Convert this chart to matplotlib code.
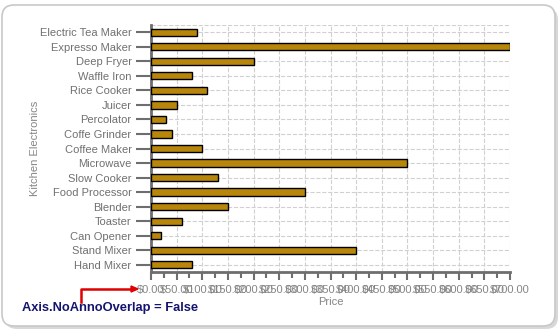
# horizontal bar chart of kitchen electronics prices, overlapping tick labels on purpose

import matplotlib
matplotlib.use('Agg')
import matplotlib.pyplot as plt
from matplotlib.patches import FancyBboxPatch
from matplotlib.lines import Line2D
from matplotlib.transforms import IdentityTransform
from matplotlib.ticker import MultipleLocator

plt.rcParams['font.family'] = ['Liberation Sans', 'DejaVu Sans']

categories = ['Electric Tea Maker', 'Expresso Maker', 'Deep Fryer', 'Waffle Iron',
              'Rice Cooker', 'Juicer', 'Percolator', 'Coffe Grinder', 'Coffee Maker',
              'Microwave', 'Slow Cooker', 'Food Processor', 'Blender', 'Toaster',
              'Can Opener', 'Stand Mixer', 'Hand Mixer']
prices = [90, 700, 200, 80, 110, 50, 30, 40, 100, 500, 130, 300, 150, 60, 20, 400, 80]
price_ticks = list(range(0, 701, 50))
price_labels = ['$%.2f' % p for p in price_ticks]

W, H = 560, 331
fig = plt.figure(figsize=(W / 100, H / 100), dpi=100)
fig.patch.set_facecolor('white')

# rounded frame with a soft shadow
shadow = FancyBboxPatch((5, 2), 553, 321, boxstyle='round,pad=0,rounding_size=12',
                        transform=IdentityTransform(), facecolor='#d8d8d8',
                        edgecolor='none', zorder=-2)
frame = FancyBboxPatch((2, 5), 553, 321, boxstyle='round,pad=0,rounding_size=12',
                       transform=IdentityTransform(), facecolor='white',
                       edgecolor='#c8c8c8', lw=1.2, zorder=-1)
fig.patches.append(shadow)
fig.patches.append(frame)

ax = fig.add_axes([151 / W, 1 - 272 / H, 359 / W, 247 / H])
ax.set_facecolor('none')
ax.set_zorder(2)

y = list(range(len(categories)))
ax.barh(y, prices, height=0.5, color='#B8860B', edgecolor='black', linewidth=1.0, zorder=3)

ax.set_xlim(0, 700)
ax.set_ylim(len(categories) - 0.5, -0.5)
ax.set_yticks(y)
ax.set_yticklabels(categories)
ax.set_xticks(price_ticks)
ax.set_xticklabels(price_labels)
ax.xaxis.set_minor_locator(MultipleLocator(25))

gray = '#6e6e6e'
ax.tick_params(axis='y', length=11, width=1.5, color=gray, labelcolor='#707070',
               labelsize=8.0, pad=3)
ax.tick_params(axis='x', which='major', length=6, width=1.5, color=gray,
               labelcolor='#858585', labelsize=8.0, pad=3)
ax.tick_params(axis='x', which='minor', length=4, width=1.5, color=gray)

ax.grid(True, which='major', color='#d0d0d0', linestyle='--', linewidth=0.8, zorder=0)
ax.axhline(-0.5, color='#d0d0d0', linestyle='--', linewidth=0.8, zorder=0)

for side in ['top', 'right']:
    ax.spines[side].set_visible(False)
for side in ['left', 'bottom']:
    ax.spines[side].set_color(gray)
    ax.spines[side].set_linewidth(2)

ax.set_xlabel('Price', color='#858585', fontsize=8.0, labelpad=2)
ax.set_ylabel('Kitchen Electronics', color='#858585', fontsize=8.0)
ax.yaxis.set_label_coords((40 - 151) / 359, 0.5)

# red callout pointing at the overlapping labels
fig.add_artist(Line2D([81 / W, 81 / W, 132 / W], [1 - 302 / H, 1 - 289 / H, 1 - 289 / H],
                      color='#e00000', lw=1.8, zorder=5))
fig.add_artist(plt.Polygon([[131 / W, 1 - 286 / H], [138 / W, 1 - 289 / H],
                            [131 / W, 1 - 292 / H]], closed=True,
                           color='#e00000', zorder=5))
fig.text(22 / W, 1 - 308 / H, 'Axis.NoAnnoOverlap = False', color='#14146e',
         fontsize=9.3, fontweight='bold', va='center', ha='left', zorder=5)

fig.savefig('out.png', dpi=100)
